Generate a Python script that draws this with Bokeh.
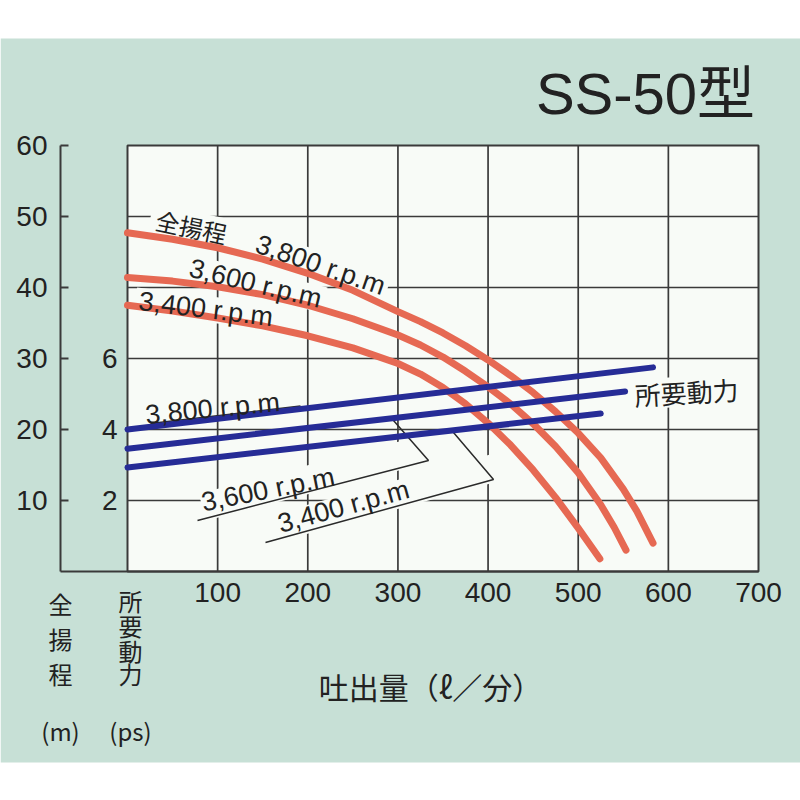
import math
from bokeh.plotting import figure
from bokeh.models import Range1d, LinearAxis, FixedTicker
from bokeh.core.properties import value
from bokeh.embed import file_html
from bokeh.resources import INLINE

# ---------------- data ----------------
FLOW_TICKS = [100, 200, 300, 400, 500, 600, 700]
HEAD_TICKS = [10, 20, 30, 40, 50, 60]
POWER_TICKS = [2, 4, 6]
RPM = ["3,800 r.p.m", "3,600 r.p.m", "3,400 r.p.m"]

head_flow_3800 = [0, 50, 100, 150, 200, 250, 300, 325, 350, 375, 400, 425, 450, 475, 500, 525, 550, 565, 583]
head_3800 = [47.7, 46.8, 45.6, 44.0, 42.0, 39.6, 36.6, 35.2, 33.6, 31.8, 29.8, 27.6, 25.2, 22.5, 19.5, 16.0, 11.6, 8.5, 4.0]
head_flow_3600 = [0, 50, 100, 150, 200, 250, 300, 325, 350, 375, 400, 425, 450, 475, 500, 525, 540, 553]
head_3600 = [41.4, 40.9, 40.1, 39.0, 37.5, 35.6, 33.3, 31.9, 30.2, 28.2, 26.0, 23.6, 20.8, 17.6, 13.9, 9.4, 6.2, 3.0]
head_flow_3400 = [0, 50, 100, 150, 200, 250, 300, 325, 350, 375, 400, 425, 450, 475, 500, 524]
head_3400 = [37.5, 36.7, 35.7, 34.6, 33.2, 31.5, 29.3, 27.8, 25.9, 23.6, 20.9, 17.8, 14.3, 10.4, 6.1, 1.8]

power_flow_3800 = [0, 583]
power_3800 = [4.0, 5.75]
power_flow_3600 = [0, 552]
power_3600 = [3.46, 5.07]
power_flow_3400 = [0, 525]
power_3400 = [2.93, 4.45]

TITLE = "SS-50型"
HEAD_NAME = "全揚程"
POWER_NAME = "所要動力"
HEAD_AXIS_CHARS = ["全", "揚", "程", "(m)"]
POWER_AXIS_CHARS = ["所", "要", "動", "力", "(ps)"]
FLOW_NAME = "吐出量（ℓ／分）"

# ---------------- layout (pixel geometry) ----------------
X0, Y0 = 127, 571            # pixel of origin (0 l/min, 0 m)
SX = 631 / 700               # px per l/min
SY = 426 / 60                # px per m
M_PER_PS = 5                 # 6 ps aligned with 30 m


def fx(px):
    return (px - X0) / SX


def fy(py):
    return (Y0 - py) / SY


def rad(deg):
    # positive deg = text rising to the right (counter-clockwise)
    return math.radians(deg)


TEAL = "#c7e0d6"
BOX = "#f8fbf7"
GRID = "#3a3a3a"
RED = "#e66953"
BLUE = "#262c96"
TXT = "#222222"
LAT = "Liberation Sans"
CJK = "Noto Sans CJK JP"

p = figure(width=800, height=800, output_backend="svg", toolbar_location=None,
           x_range=Range1d(fx(0), fx(800)), y_range=Range1d(fy(800), fy(0)),
           x_axis_location=None, y_axis_location=None, min_border=0)
p.extra_y_ranges = {"ps": Range1d(fy(800) / M_PER_PS, fy(0) / M_PER_PS)}
p.background_fill_color = "white"
p.border_fill_color = "white"
p.outline_line_color = None
p.xgrid.visible = False
p.ygrid.visible = False

# teal panel and white plotting box
p.quad(left=fx(0), right=fx(800), top=fy(38), bottom=fy(762),
       fill_color=TEAL, line_color=None)
XMAX, YMAX = FLOW_TICKS[-1], HEAD_TICKS[-1]
p.quad(left=0, right=XMAX, bottom=0, top=YMAX,
       fill_color=BOX, line_color=GRID, line_width=2)

# grid lines
p.segment(x0=FLOW_TICKS[:-1], x1=FLOW_TICKS[:-1], y0=[0] * 6, y1=[YMAX] * 6,
          line_color=GRID, line_width=1.7)
p.segment(x0=[0] * 5, x1=[XMAX] * 5, y0=HEAD_TICKS[:-1], y1=HEAD_TICKS[:-1],
          line_color=GRID, line_width=1.7)

# axes
yax = LinearAxis(fixed_location=fx(60), ticker=FixedTicker(ticks=HEAD_TICKS),
                 bounds=(0, YMAX), major_tick_in=8, major_tick_out=0,
                 minor_tick_in=0, minor_tick_out=0, major_label_standoff=13,
                 axis_line_width=2, axis_line_color=GRID,
                 major_tick_line_color=GRID, major_tick_line_width=2,
                 major_label_text_font=LAT, major_label_text_font_size="28px",
                 major_label_text_color=TXT)
p.add_layout(yax, "left")
xax = LinearAxis(fixed_location=0, ticker=FixedTicker(ticks=FLOW_TICKS),
                 bounds=(fx(60), XMAX), major_tick_in=0, major_tick_out=0,
                 minor_tick_in=0, minor_tick_out=0, major_label_standoff=11,
                 axis_line_width=2, axis_line_color=GRID,
                 major_label_text_font=LAT, major_label_text_font_size="28px",
                 major_label_text_color=TXT)
p.add_layout(xax, "below")

# label masks (hide grid behind labels)
masks = [  # cx, cy, w, h, angle(deg, + = rising)
    (191, 226, 84, 30, -11.8),      # 全揚程
    (320, 264.5, 142, 26, -18.9),   # head 3800
    (255, 283, 142, 26, -13.6),     # head 3600
    (205.5, 308.5, 142, 26, -7.0),  # head 3400
    (316, 477, 236, 28, 14.6),      # power 3600
    (382.5, 498, 232, 28, 15.4),    # power 3400
    (686, 391, 110, 30, 3.4),       # 所要動力
]
p.rect(x=[fx(m[0]) for m in masks], y=[fy(m[1]) for m in masks],
       width=[m[2] for m in masks], height=[m[3] for m in masks],
       angle=[rad(m[4]) for m in masks], width_units="screen", height_units="screen",
       fill_color=BOX, line_color=None)

# leader lines
leaders = [
    [(150, 423), (300, 405.5)],
    [(393, 420), (428, 460), (197, 520)],
    [(453, 432), (493, 479), (265, 542)],
]
p.multi_line(xs=[[fx(a) for a, b in L] for L in leaders],
             ys=[[fy(b) for a, b in L] for L in leaders],
             line_color="#2a2a2a", line_width=1.5)

# head curves
for fl, hd in [(head_flow_3800, head_3800), (head_flow_3600, head_3600),
               (head_flow_3400, head_3400)]:
    p.line(fl, hd, line_color=RED, line_width=7, line_cap="round", line_join="round")

# power lines
for fl, pw in [(power_flow_3800, power_3800), (power_flow_3600, power_3600),
               (power_flow_3400, power_3400)]:
    p.line(fl, pw, y_range_name="ps", line_color=BLUE, line_width=6, line_cap="round")

# ps tick labels
p.text(x=[fx(117)] * len(POWER_TICKS), y=POWER_TICKS, text=[str(t) for t in POWER_TICKS],
       y_range_name="ps", text_align="right", text_baseline="middle",
       text_font=value(LAT), text_font_size=value("28px"), text_color=TXT)

# rpm labels
head_lab = [(320, 264.5, -18.9), (255, 283, -13.6), (205.5, 308.5, -7.0)]
power_lab = [(212, 408, 5.6), (267.5, 489, 11.2), (343, 506, 15.2)]
for pos in (head_lab, power_lab):
    p.text(x=[fx(a) for a, b, c in pos], y=[fy(b) for a, b, c in pos], text=RPM,
           angle=[rad(c) for a, b, c in pos], text_align="center", text_baseline="middle",
           text_font=value(LAT), text_font_size=value("27px"), text_color=TXT)

# series names
p.text(x=[fx(191)], y=[fy(226)], text=[HEAD_NAME], angle=[rad(-11.8)],
       text_align="center", text_baseline="middle",
       text_font=value(CJK), text_font_size=value("24px"), text_color=TXT)
p.text(x=[fx(686)], y=[fy(391)], text=[POWER_NAME], angle=[rad(3.4)],
       text_align="center", text_baseline="middle",
       text_font=value(CJK), text_font_size=value("26px"), text_color=TXT)

# title
p.text(x=[fx(645)], y=[fy(93)], text=[TITLE], text_align="center", text_baseline="middle",
       text_font=value(LAT + ", " + CJK), text_font_size=value("58px"), text_color=TXT)

# axis titles
p.text(x=[fx(60)] * 4, y=[fy(603), fy(638), fy(673), fy(730)], text=HEAD_AXIS_CHARS,
       text_align="center", text_baseline="middle",
       text_font=value(CJK), text_font_size=value("24px"), text_color=TXT)
p.text(x=[fx(130)] * 5, y=[fy(600), fy(625), fy(650), fy(673), fy(730)], text=POWER_AXIS_CHARS,
       text_align="center", text_baseline="middle",
       text_font=value(CJK), text_font_size=value("24px"), text_color=TXT)
p.text(x=[fx(430)], y=[fy(685)], text=[FLOW_NAME], text_align="center", text_baseline="middle",
       text_font=value(CJK), text_font_size=value("30px"), text_color=TXT)

open("out.html", "w").write(file_html(p, INLINE))
